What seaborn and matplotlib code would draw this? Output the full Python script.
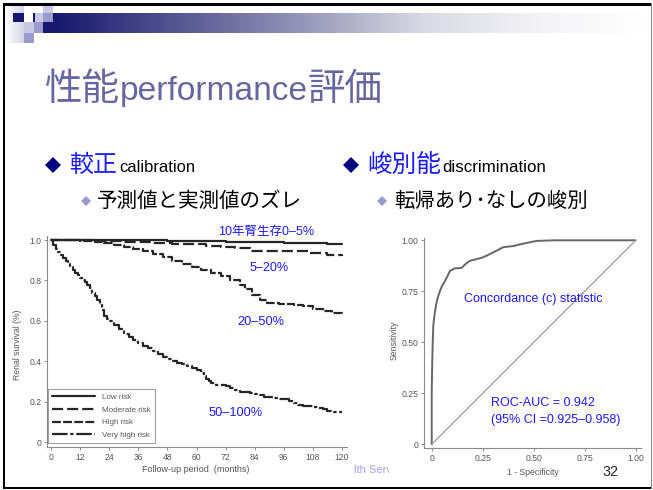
import numpy as np
import pandas as pd
import matplotlib
matplotlib.use("Agg")
import matplotlib.pyplot as plt
import seaborn as sns
from matplotlib.patches import Rectangle
from matplotlib.colors import LinearSegmentedColormap

# ---------------- data ----------------
km_groups = ["Low risk", "Moderate risk", "High risk", "Very high risk"]

low_t = [0, 30, 48, 60, 72, 84, 96, 108, 114, 120]
low_s = [1.0, 0.998, 0.996, 0.994, 0.991, 0.989, 0.986, 0.983, 0.979, 0.979]

mod_t = [0, 6, 18, 30, 42, 50, 58, 64, 70, 76, 82, 100, 106, 114, 120]
mod_s = [1.0, 0.998, 0.995, 0.99, 0.987, 0.982, 0.978, 0.972, 0.965, 0.958,
         0.948, 0.946, 0.935, 0.925, 0.922]

high_t = [0, 6, 12, 18, 22, 26, 30, 34, 38, 42, 46, 50, 54, 58, 62, 66, 70,
          74, 78, 80, 83, 86, 89, 94, 100, 104, 108, 112, 116, 120]
high_s = [1.0, 0.998, 0.995, 0.99, 0.985, 0.975, 0.965, 0.955, 0.945, 0.93,
          0.915, 0.895, 0.88, 0.865, 0.85, 0.835, 0.82, 0.80, 0.775, 0.755,
          0.73, 0.705, 0.69, 0.685, 0.68, 0.672, 0.66, 0.648, 0.64, 0.635]

vhigh_t = [0, 1, 2, 3, 4, 5, 6, 7, 8, 9, 10, 11, 12, 13, 14, 15, 16, 17, 18,
           19, 20, 21, 22, 23, 24, 26, 28, 30, 32, 34, 36, 38, 40, 42, 44, 46,
           48, 50, 52, 54, 56, 58, 60, 62, 63, 64, 65, 66, 68, 70, 72, 74, 76,
           78, 80, 82, 84, 86, 88, 90, 92, 94, 96, 98, 100, 102, 104, 106,
           108, 110, 112, 114, 116, 118, 120]
vhigh_s = [1.0, 0.975, 0.955, 0.94, 0.925, 0.91, 0.895, 0.88, 0.865, 0.85,
           0.835, 0.825, 0.81, 0.80, 0.79, 0.775, 0.76, 0.74, 0.725, 0.705,
           0.685, 0.655, 0.625, 0.61, 0.60, 0.58, 0.56, 0.535, 0.52, 0.505,
           0.49, 0.475, 0.465, 0.45, 0.435, 0.42, 0.41, 0.40, 0.39, 0.385,
           0.375, 0.365, 0.355, 0.34, 0.325, 0.31, 0.30, 0.29, 0.28, 0.28,
           0.275, 0.265, 0.258, 0.25, 0.248, 0.245, 0.24, 0.232, 0.225, 0.222,
           0.22, 0.215, 0.212, 0.205, 0.195, 0.185, 0.18, 0.18, 0.175, 0.17,
           0.162, 0.155, 0.15, 0.15, 0.15]

km_xticks = [0, 12, 24, 36, 48, 60, 72, 84, 96, 108, 120]
km_yticks = [0, 0.2, 0.4, 0.6, 0.8, 1.0]
km_yticklabels = ["0", "0.2", "0.4", "0.6", "0.8", "1.0"]

roc_fpr = [0, 0.0, 0.003, 0.005, 0.008, 0.012, 0.016, 0.02, 0.025, 0.03, 0.04,
           0.05, 0.065, 0.08, 0.09, 0.1, 0.114, 0.13, 0.147, 0.16, 0.17, 0.188,
           0.21, 0.253, 0.28, 0.32, 0.35, 0.4, 0.433, 0.48, 0.515, 0.6, 0.7, 1.0]
roc_tpr = [0, 0.25, 0.42, 0.5, 0.585, 0.62, 0.65, 0.675, 0.70, 0.72, 0.75,
           0.775, 0.80, 0.83, 0.85, 0.855, 0.863, 0.863, 0.865, 0.878, 0.887,
           0.90, 0.905, 0.917, 0.93, 0.95, 0.966, 0.972, 0.98, 0.99, 0.997,
           1.0, 1.0, 1.0]
roc_ticks = [0, 0.25, 0.5, 0.75, 1.0]
roc_ticklabels = ["0", "0.25", "0.50", "0.75", "1.00"]

# ---------------- setup ----------------
sns.set_theme(style="white")
plt.rcParams["font.family"] = ["Liberation Sans", "Noto Sans CJK JP", "DejaVu Sans"]

W, H = 653, 490
fig = plt.figure(figsize=(W / 100, H / 100), dpi=100)
fig.patch.set_facecolor("white")


def px_axes(x0, y0, x1, y1):
    return fig.add_axes([x0 / W, 1 - y1 / H, (x1 - x0) / W, (y1 - y0) / H])


bg = px_axes(0, 0, W, H)
bg.set_zorder(0)
bg.axis("off")

NAVY = "#17176e"
LAV1 = "#c9c9e6"
LAV2 = "#9b9bcc"
BLUE = "#1a1aff"
TITLE = "#67679f"

# left vertical gradient strip
strip = np.linspace(0, 1, 50)[None, :]
bg.imshow(strip, extent=(5, 24, 43, 6), aspect="auto",
          cmap=LinearSegmentedColormap.from_list("s", ["#ffffff", "#d4d4ea"]),
          zorder=1, interpolation="bilinear")
# header gradient bar
bar = np.linspace(0, 1, 400)[None, :]
cm_bar = LinearSegmentedColormap.from_list(
    "b", [(0, "#18186f"), (0.42, "#9595b8"), (0.63, "#dadae5"),
          (0.83, "#f3f3f6"), (1, "#ffffff")])
bg.imshow(bar, extent=(53, 645, 33, 13), aspect="auto", cmap=cm_bar,
          zorder=1, interpolation="bilinear")
for (x, y, w, h, c) in [(13, 13, 11, 9, NAVY), (33, 13, 1.6, 9, NAVY),
                        (34.6, 13, 8.4, 9, LAV1), (43, 6, 10, 7, LAV1),
                        (43, 13, 10, 9, LAV2), (24, 22, 10, 11, LAV1),
                        (34, 22, 9, 11, LAV2), (43, 22, 10, 11, NAVY),
                        (24, 33, 10, 10, LAV2)]:
    bg.add_patch(Rectangle((x, y), w, h, color=c, zorder=2, lw=0))

# slide border
bg.add_patch(Rectangle((3, 3), 2.2, 486, color="black", zorder=3, lw=0))
bg.add_patch(Rectangle((3, 3.5), 648, 2.2, color="black", zorder=3, lw=0))
bg.add_patch(Rectangle((3, 486.8), 648, 2.2, color="black", zorder=3, lw=0))
bg.add_patch(Rectangle((650.5, 3.5), 1.2, 485, color="#888888", zorder=3, lw=0))

renderer = fig.canvas.get_renderer()


def put(ax, x, y, s, width=None, size=10, **kw):
    t = ax.text(x, y, s, fontsize=size, **kw)
    if width is not None:
        bb = t.get_window_extent(renderer)
        t.set_fontsize(size * width / bb.width)
    return t


bg.set_xlim(0, W)
bg.set_ylim(H, 0)

# title
put(bg, 45, 100, "性能", 75, 26, color=TITLE, va="baseline", family="Noto Sans CJK JP")
put(bg, 120, 100, "performance", 188, 24, color=TITLE, va="baseline")
put(bg, 308, 100, "評価", 75, 26, color=TITLE, va="baseline", family="Noto Sans CJK JP")

# bullets
bg.plot([53], [165], marker="D", ms=8, color="#000080", ls="none",
        zorder=4, mew=0)
bg.plot([351], [165], marker="D", ms=8, color="#000080", ls="none",
        zorder=4, mew=0)
bg.plot([86, 382], [201, 201], marker="D", ms=5.5, color="#9999cc",
        ls="none", zorder=4, mew=0)
put(bg, 69, 172, "較正", 48, 17, color=BLUE, va="baseline", family="Noto Sans CJK JP")
put(bg, 119, 172, "calibration", 76, 12, color="black", va="baseline")
put(bg, 367, 172, "峻別能", 74, 17, color=BLUE, va="baseline", family="Noto Sans CJK JP")
put(bg, 442, 172, "discrimination", 104, 12, color="black", va="baseline")
put(bg, 97, 207, "予測値と実測値のズレ", 206, 15, color="black", va="baseline",
    family="Noto Sans CJK JP")
put(bg, 394, 207, "転帰あり･なしの峻別", 194, 15, color="black", va="baseline",
    family="Noto Sans CJK JP")

# footer remnant
put(bg, 354, 470, "lth Serv", None, 8, color="#a0a0f4", va="center")
bg.add_patch(Rectangle((389, 461), 12, 18, color="white", zorder=5, lw=0))

# ---------------- Kaplan-Meier chart ----------------
axL = px_axes(47, 236, 347, 447)
axL.set_zorder(2)
axL.patch.set_alpha(0)
LINEC = "#262626"
styles = {"Low risk": "-", "Moderate risk": (0, (5, 1.8)),
          "High risk": (0, (4, 1.0)), "Very high risk": (0, (7, 1.2, 1.5, 1.2))}
series = {"Low risk": (low_t, low_s), "Moderate risk": (mod_t, mod_s),
          "High risk": (high_t, high_s), "Very high risk": (vhigh_t, vhigh_s)}
for g in km_groups:
    t, s = series[g]
    df = pd.DataFrame({"month": t, "survival": s})
    sns.lineplot(data=df, x="month", y="survival", ax=axL, color=LINEC,
                 lw=1.6, ls=styles[g], drawstyle="steps-post", label=g,
                 estimator=None)

sx = 291 / 120
sy = 202
axL.set_xlim(-(51 - 47) / sx, 120 + (347 - 342) / sx)
axL.set_ylim(-(447 - 442) / sy, 1 + (240 - 236) / sy)
axL.set_xticks(km_xticks)
axL.set_xticklabels([str(v) for v in km_xticks])
axL.set_yticks(km_yticks)
axL.set_yticklabels(km_yticklabels)

leg = axL.legend(loc="lower left", bbox_to_anchor=(0.003, 0.019),
                 borderaxespad=0, frameon=True, fancybox=False,
                 edgecolor="#888888", fontsize=5.8, handlelength=5.4,
                 borderpad=0.5, labelspacing=0.62, handletextpad=0.8)
leg.get_frame().set_linewidth(0.8)
for tx in leg.get_texts():
    tx.set_color("#555555")

axL.set_xlabel("Follow-up period  (months)", fontsize=6.5, color="#555555")
axL.set_ylabel("Renal survival (%)", fontsize=6.2, color="#555555")
axL.xaxis.set_label_coords((196 - 47) / 300, (447 - 469) / 211)
axL.xaxis.label.set_va("center")
axL.yaxis.set_label_coords((18 - 47) / 300, (447 - 345) / 211)
axL.yaxis.label.set_va("center")

# ---------------- ROC chart ----------------
axR = px_axes(424, 238, 641, 448)
axR.set_zorder(2)
axR.patch.set_alpha(0)
roc_df = pd.DataFrame({"fpr": roc_fpr, "tpr": roc_tpr})
sns.lineplot(data=roc_df, x="fpr", y="tpr", ax=axR, color="#666666", lw=1.4,
             sort=False, estimator=None)
sns.lineplot(x=[0, 1], y=[0, 1], ax=axR, color="#9a9a9a", lw=0.9,
             estimator=None)
r = 204
axR.set_xlim(-(431.7 - 424) / r, 1 + (641 - 635.7) / r)
axR.set_ylim(-(448 - 444.3) / r, 1 + (240.3 - 238) / r)
axR.set_xticks(roc_ticks)
axR.set_xticklabels(roc_ticklabels)
axR.set_yticks(roc_ticks)
axR.set_yticklabels(roc_ticklabels)
axR.set_xlabel("1 - Specificity", fontsize=6.2, color="#555555")
axR.set_ylabel("Sensitivity", fontsize=6.2, color="#555555")
axR.xaxis.set_label_coords((533 - 424) / 217, (448 - 472) / 210)
axR.xaxis.label.set_va("center")
axR.yaxis.set_label_coords((394 - 424) / 217, (448 - 340) / 210)
axR.yaxis.label.set_va("center")

for ax in (axL, axR):
    for sp in ("top", "right"):
        ax.spines[sp].set_visible(False)
    for sp in ("left", "bottom"):
        ax.spines[sp].set_color("#8a8a8a")
        ax.spines[sp].set_linewidth(0.8)
    ax.tick_params(axis="both", direction="out", length=2.5, width=0.7,
                   colors="#8a8a8a", labelcolor="#555555", labelsize=6.2,
                   pad=1.5, left=True, bottom=True)
    ax.grid(False)

# ---------------- overlay annotations ----------------
ov = px_axes(0, 0, W, H)
ov.set_zorder(5)
ov.axis("off")
ov.set_xlim(0, W)
ov.set_ylim(H, 0)
ann = [(218, 232, "10年腎生存0–5%", 96), (250, 268, "5–20%", 39),
       (237, 322, "20–50%", 47), (209, 413, "50–100%", 54),
       (464, 299, "Concordance (c) statistic", 139),
       (491, 403, "ROC-AUC = 0.942", 104),
       (491, 420, "(95% CI =0.925–0.958)", 129)]
for x, y, s, w in ann:
    put(ov, x, y, s, w, 9, color=BLUE, va="center")
put(ov, 602, 472, "32", 16, 10, color="#222222", va="center")

fig.savefig("out.png", dpi=100)
